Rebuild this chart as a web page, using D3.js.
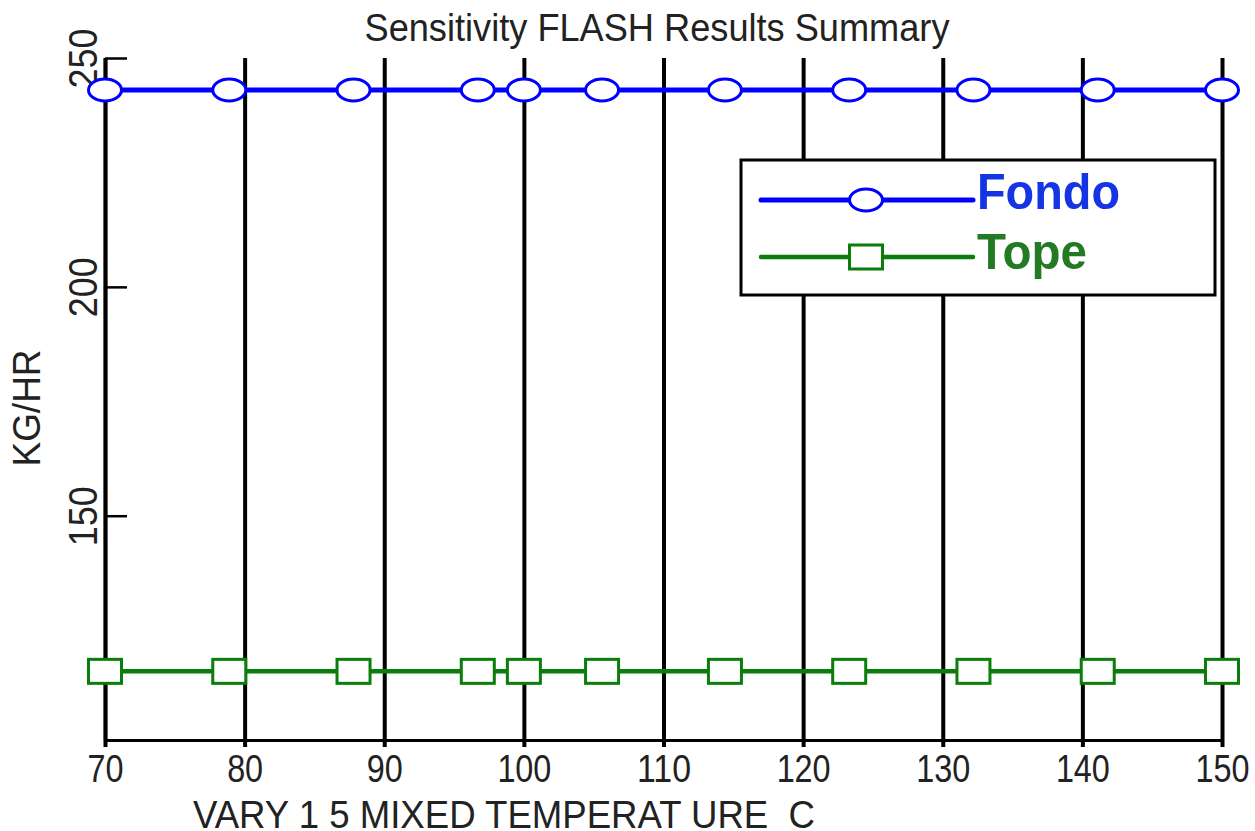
<!DOCTYPE html>
<html>
<head>
<meta charset="utf-8">
<script src="https://cdn.jsdelivr.net/npm/d3@7"></script>
<style>
  html, body { margin: 0; padding: 0; background: #fff; }
  svg { display: block; font-family: "Liberation Sans", Arial, sans-serif; }
  text { white-space: pre; }
</style>
</head>
<body>
<svg id="chart" width="1255" height="831"></svg>
<script>
"use strict";

// chart data
var temps = [70, 78.9, 87.8, 96.7, 100, 105.6, 114.4, 123.3, 132.2, 141.1, 150];
var fondo = [243, 243, 243, 243, 243, 243, 243, 243, 243, 243, 243];
var tope = [116, 116, 116, 116, 116, 116, 116, 116, 116, 116, 116];
var xTicks = [70, 80, 90, 100, 110, 120, 130, 140, 150];
var yTicks = [150, 200, 250];
var seriesNames = ['Fondo', 'Tope'];

var title = 'Sensitivity FLASH Results Summary';
var xTitle = 'VARY 1 5 MIXED TEMPERAT URE  C';
var yTitle = 'KG/HR';

var svg = d3.select('#chart');

var x = d3.scaleLinear().domain([70, 150]).range([105, 1222]);
var y = d3.scaleLinear().domain([101, 250]).range([740, 58]);

// the original font is tall and narrow, so squeeze the glyphs a bit
function narrow(sel, perChar) {
  sel.attr('lengthAdjust', 'spacingAndGlyphs')
    .attr('textLength', function() { return this.textContent.length * perChar; });
}

// vertical grid lines (they poke a little below the x axis)
svg.append('g')
  .attr('transform', 'translate(0,747)')
  .call(d3.axisBottom(x).tickValues(xTicks).tickSize(-(747 - 58)).tickFormat(''))
  .call(g => g.select('.domain').remove())
  .call(g => g.selectAll('line').attr('stroke', '#000').attr('stroke-width', 4));

// x axis with labels
svg.append('g')
  .attr('transform', 'translate(0,740)')
  .call(d3.axisBottom(x).tickValues(xTicks).tickSize(0).tickSizeOuter(0).tickPadding(42))
  .call(g => g.select('.domain').attr('stroke', '#000').attr('stroke-width', 3))
  .call(g => g.selectAll('text')
    .attr('dy', null)
    .attr('fill', '#222')
    .attr('font-size', 39)
    .call(narrow, 18));

// y axis: short ticks pointing into the plot, rotated labels
svg.append('g')
  .attr('transform', 'translate(105,0)')
  .call(d3.axisLeft(y).tickValues(yTicks).tickSizeInner(-22).tickSizeOuter(0))
  .call(g => g.select('.domain').attr('stroke', '#000').attr('stroke-width', 3.5))
  .call(g => g.selectAll('line').attr('stroke', '#000').attr('stroke-width', 2.5))
  .call(g => g.selectAll('text')
    .attr('x', null)
    .attr('dy', null)
    .attr('text-anchor', 'middle')
    .attr('transform', 'translate(-8,0) rotate(-90)')
    .attr('fill', '#222')
    .attr('font-size', 40)
    .call(narrow, 20));

// titles
svg.append('text')
  .attr('x', 657).attr('y', 41)
  .attr('text-anchor', 'middle')
  .attr('font-size', 38)
  .attr('fill', '#222')
  .attr('lengthAdjust', 'spacingAndGlyphs')
  .attr('textLength', 585)
  .text(title);

svg.append('text')
  .attr('x', 193).attr('y', 828)
  .attr('font-size', 38)
  .attr('fill', '#222')
  .attr('lengthAdjust', 'spacingAndGlyphs')
  .attr('textLength', 622)
  .text(xTitle);

svg.append('text')
  .attr('transform', 'translate(40,408) rotate(-90)')
  .attr('text-anchor', 'middle')
  .attr('font-size', 38)
  .attr('fill', '#222')
  .attr('lengthAdjust', 'spacingAndGlyphs')
  .attr('textLength', 117)
  .text(yTitle);

// series
var series = [
  { name: seriesNames[0], values: fondo, color: '#0000ff', text: '#1535e4', marker: 'ellipse', width: 5, textLen: 143 },
  { name: seriesNames[1], values: tope, color: '#0a7d0a', text: '#227a22', marker: 'rect', width: 4.5, textLen: 110 }
];

function drawMarker(sel, s) {
  if (s.marker === 'ellipse') {
    sel.append('ellipse')
      .attr('rx', 16.5).attr('ry', 11);
  } else {
    sel.append('rect')
      .attr('x', -16.5).attr('y', -12)
      .attr('width', 33).attr('height', 24);
  }
  sel.select(':last-child')
    .attr('fill', '#fff')
    .attr('stroke', s.color)
    .attr('stroke-width', 3);
}

var line = d3.line()
  .x(d => x(d.t))
  .y(d => y(d.v));

series.forEach(function(s) {
  var pts = temps.map((t, i) => ({ t: t, v: s.values[i] }));
  svg.append('path')
    .datum(pts)
    .attr('fill', 'none')
    .attr('stroke', s.color)
    .attr('stroke-width', s.width)
    .attr('d', line);

  svg.append('g')
    .selectAll('g')
    .data(pts)
    .enter()
    .append('g')
    .attr('transform', d => 'translate(' + x(d.t) + ',' + y(d.v) + ')')
    .each(function() { drawMarker(d3.select(this), s); });
});

// legend
var legend = svg.append('g').attr('transform', 'translate(741,160)');
legend.append('rect')
  .attr('width', 474).attr('height', 135)
  .attr('fill', '#fff')
  .attr('stroke', '#000')
  .attr('stroke-width', 3);

var legendRows = [40, 97];
series.forEach(function(s, i) {
  var row = legend.append('g').attr('transform', 'translate(0,' + legendRows[i] + ')');
  row.append('line')
    .attr('x1', 20).attr('x2', 232)
    .attr('stroke', s.color)
    .attr('stroke-width', s.width)
    .attr('stroke-linecap', 'round');
  var m = row.append('g').attr('transform', 'translate(125,0)');
  drawMarker(m, s);
  row.append('text')
    .attr('x', 236).attr('y', i === 0 ? 9 : 12)
    .attr('font-size', 50)
    .attr('font-weight', 'bold')
    .attr('fill', s.text)
    .attr('lengthAdjust', 'spacingAndGlyphs')
    .attr('textLength', s.textLen)
    .text(s.name);
});
</script>
</body>
</html>
